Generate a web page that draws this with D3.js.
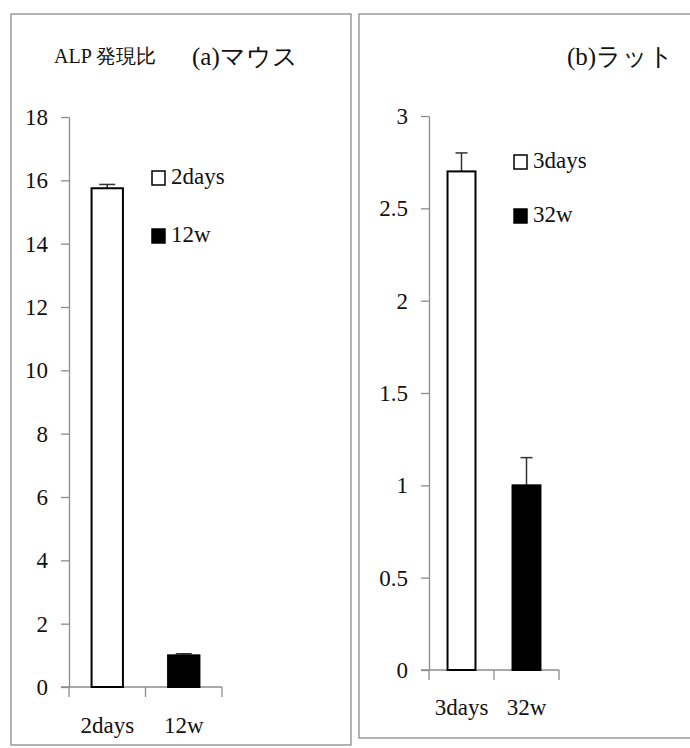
<!DOCTYPE html>
<html><head><meta charset="utf-8">
<script src="https://cdn.jsdelivr.net/npm/d3@7/dist/d3.min.js"></script>
</head>
<body style="margin:0">
<svg id="c" width="690" height="748" font-family="Liberation Serif"></svg>
<script>
// Panel (a) mouse
const catsA = ["2days", "12w"];
const valsA = [15.75, 1.0];
const errA = [0.12, 0.05];
const ticksA = [0, 2, 4, 6, 8, 10, 12, 14, 16, 18];
// Panel (b) rat
const catsB = ["3days", "32w"];
const valsB = [2.7, 1.0];
const errB = [0.1, 0.15];
const ticksB = [0, 0.5, 1, 1.5, 2, 2.5, 3];
const fills = ["#fff", "#000"];
const FONT = "Liberation Serif";

const svg = d3.select("#c");

function txt(sel, size) {
  return sel.attr("font-family", FONT).attr("font-size", size)
    .style("font-family", "'Liberation Serif', 'Times New Roman', serif", "important")
    .style("font-size", size + "px", "important").attr("fill", "#111");
}

// panel frames
svg.append("rect").attr("x", 11).attr("y", 14).attr("width", 340).attr("height", 731)
  .attr("fill", "none").attr("stroke", "#9a9a9a").attr("stroke-width", 1.5);
svg.append("rect").attr("x", 359).attr("y", 14).attr("width", 340).attr("height", 724)
  .attr("fill", "none").attr("stroke", "#9a9a9a").attr("stroke-width", 1.5);

function panel(cfg) {
  const g = svg.append("g");
  const y = d3.scaleLinear().domain([0, cfg.max]).range([cfg.y0, cfg.y1]);
  const x = d3.scaleBand().domain(cfg.cats).range([cfg.x0, cfg.x1])
    .paddingInner(cfg.pad).paddingOuter(cfg.pad / 2);

  // y axis
  const ya = g.append("g").attr("transform", `translate(${cfg.x0},0)`)
    .call(d3.axisLeft(y).tickValues(cfg.ticks).tickSize(8).tickSizeOuter(0).tickPadding(13)
      .tickFormat(d => String(d)));
  ya.attr("font-family", FONT).attr("font-size", 23);
  ya.selectAll("path,line").attr("stroke", "#8c8c8c").attr("stroke-width", 1.3);
  txt(ya.selectAll("text"), 23);

  // x axis line and boundary ticks
  g.append("line").attr("x1", cfg.x0 - 8).attr("x2", cfg.x1).attr("y1", y(0)).attr("y2", y(0))
    .attr("stroke", "#8c8c8c").attr("stroke-width", 1.3);
  const edges = [cfg.x0].concat(cfg.cats.map((c, i) => cfg.x0 + (i + 1) * x.step()));
  g.selectAll(".xt").data(edges).enter().append("line")
    .attr("x1", d => d).attr("x2", d => d).attr("y1", y(0)).attr("y2", y(0) + 10)
    .attr("stroke", "#8c8c8c").attr("stroke-width", 1.3);
  const xa = g.append("g").attr("transform", `translate(0,${y(0)})`)
    .call(d3.axisBottom(x).tickSize(0).tickPadding(cfg.labPad));
  xa.attr("font-family", FONT).attr("font-size", 23);
  xa.select(".domain").remove();
  txt(xa.selectAll("text"), 23);

  // error bars
  cfg.cats.forEach((c, i) => {
    const cx = x(c) + x.bandwidth() / 2;
    g.append("line").attr("x1", cx).attr("x2", cx)
      .attr("y1", y(cfg.vals[i])).attr("y2", y(cfg.vals[i] + cfg.err[i]))
      .attr("stroke", "#333").attr("stroke-width", 1.5);
    g.append("line").attr("x1", cx - cfg.cap).attr("x2", cx + cfg.cap)
      .attr("y1", y(cfg.vals[i] + cfg.err[i])).attr("y2", y(cfg.vals[i] + cfg.err[i]))
      .attr("stroke", "#333").attr("stroke-width", 1.5);
  });
  // bars
  g.selectAll(".bar").data(cfg.cats).enter().append("rect")
    .attr("x", d => x(d)).attr("width", x.bandwidth())
    .attr("y", (d, i) => y(cfg.vals[i])).attr("height", (d, i) => y(0) - y(cfg.vals[i]))
    .attr("fill", (d, i) => fills[i]).attr("stroke", "#000").attr("stroke-width", 2);

  // legend
  cfg.cats.forEach((c, i) => {
    const ly = cfg.legY + i * cfg.legGap;
    g.append("rect").attr("x", cfg.legX).attr("y", ly - 13).attr("width", 13).attr("height", 14)
      .attr("fill", fills[i]).attr("stroke", "#000").attr("stroke-width", 1.5);
    txt(g.append("text").attr("x", cfg.legX + 19).attr("y", ly).text(c), 23);
  });
}

panel({cats: catsA, vals: valsA, err: errA, ticks: ticksA, max: 18,
  x0: 69, x1: 222, y0: 687, y1: 117, pad: 0.59, cap: 8, labPad: 30,
  legX: 152, legY: 184, legGap: 58});
panel({cats: catsB, vals: valsB, err: errB, ticks: ticksB, max: 3,
  x0: 429, x1: 559, y0: 670, y1: 116, pad: 0.57, cap: 6, labPad: 29,
  legX: 514, legY: 168, legGap: 54});

// titles
txt(svg.append("text").attr("x", 54).attr("y", 63).text("ALP 発現比"), 20);
txt(svg.append("text").attr("x", 192).attr("y", 65).text("(a)マウス"), 25);
txt(svg.append("text").attr("x", 567).attr("y", 65).text("(b)ラット"), 25);
</script>
</body></html>
